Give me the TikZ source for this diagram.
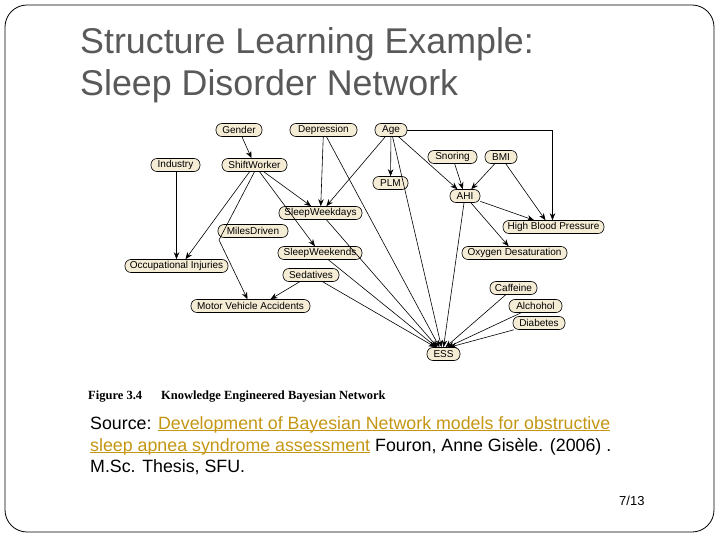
\documentclass[tikz,border=0pt]{standalone}
\usepackage{fontspec}
\setmainfont{Liberation Sans}
\newfontfamily\capfont{Liberation Serif}
\usetikzlibrary{arrows.meta}
\definecolor{nodefill}{RGB}{245,236,214}
\definecolor{titlegray}{RGB}{89,89,89}
\definecolor{linkc}{RGB}{196,150,20}
\newcommand\myul[1]{\leavevmode\setbox0\hbox{#1}\rlap{\rule[-2.2pt]{\wd0}{0.9pt}}\box0}
\tikzset{
  bn/.style={draw=black, line width=0.6pt, rounded corners=6pt, fill=nodefill,
    minimum height=13pt, inner sep=0.5pt, font=\fontsize{10}{11}\selectfont},
  arr/.style={-{Stealth[length=7pt,width=5.5pt]}, line width=0.6pt}
}
\begin{document}
\begin{tikzpicture}[x=1pt,y=-1pt]
\useasboundingbox (0,0) rectangle (720,540);
% slide frame
\draw[line width=0.8pt, rounded corners=22pt] (5,5) rectangle (714,532);
% title
\node[anchor=base west, text=titlegray, font=\fontsize{35.8}{42}\selectfont, inner sep=0pt] (t1) at (80,54) {Structure Learning Example:};
\node[anchor=base west, text=titlegray, font=\fontsize{35.8}{42}\selectfont, inner sep=0pt] (t2) at (80,96) {Sleep Disorder Network};

% nodes
\node[bn, minimum width=46pt] (Gender) at (239,130) {Gender};
\node[bn, minimum width=67pt] (Dep) at (323.5,130) {Depression};
\node[bn, minimum width=32pt] (Age) at (391,130) {Age};
\node[bn, minimum width=49pt] (Ind) at (175.5,165) {Industry};
\node[bn, minimum width=65pt] (SW) at (254.5,165) {ShiftWorker};
\node[bn, minimum width=49pt] (Snor) at (452.5,157) {Snoring};
\node[bn, minimum width=32pt] (BMI) at (501,157) {BMI};
\node[bn, minimum width=35pt] (PLM) at (390.5,183) {PLM};
\node[bn, minimum width=30pt] (AHI) at (465,196) {AHI};
\node[bn, minimum width=83pt] (SWD) at (320.5,213) {SleepWeekdays};
\node[bn, minimum width=70pt] (MD) at (253,231) {MilesDriven};
\node[bn, minimum width=101pt] (HBP) at (553.5,227) {High Blood Pressure};
\node[bn, minimum width=84pt] (SWE) at (320,253) {SleepWeekends};
\node[bn, minimum width=105pt] (OD) at (514.5,253) {Oxygen Desaturation};
\node[bn, minimum width=103pt] (OI) at (176.5,266) {Occupational Injuries};
\node[bn, minimum width=56pt] (Sed) at (311,275) {Sedatives};
\node[bn, minimum width=47pt] (Caf) at (513.5,288) {Caffeine};
\node[bn, minimum width=119pt] (MVA) at (250.5,306) {Motor Vehicle Accidents};
\node[bn, minimum width=53pt] (Alc) at (535.5,306) {Alchohol};
\node[bn, minimum width=52pt] (Dia) at (539,323) {Diabetes};
\node[bn, minimum width=33pt] (ESS) at (443.5,354) {ESS};

% edges
\draw[arr] (Gender) -- (SW);
\draw[arr] (Dep) -- (SWD);
\draw[arr] (Age) -- (SWD);
\draw[arr] (SW) -- (SWD);
\draw[arr] (Age) -- (PLM);
\draw[arr] (Age) -- (AHI);
\draw[arr] (Snor) -- (AHI);
\draw[arr] (BMI) -- (AHI);
\draw[arr] (Age.east) -| ([xshift=-1pt]HBP.north);
\draw[arr] (BMI) -- ([xshift=-8pt]HBP.north);
\draw[arr] (AHI) -- (HBP);
\draw[arr] (AHI) -- (OD);
\draw[arr] (Ind.south -| OI.north) -- (OI.north);
\draw[arr] (SW) -- ([xshift=9pt]OI.north);
\coordinate (bend) at (219,240);
\draw[arr] (SW.south) -- (bend) -- ([xshift=-3pt]MVA.north);
\draw[arr] (SW) -- (SWE);
\draw[arr] (Sed) -- ([xshift=20pt]MVA.north);
% into ESS
\draw[arr] ([xshift=3pt]Dep.south) -- ([xshift=-4pt]ESS.north);
\draw[arr] (Age) -- ([xshift=-2pt]ESS.north);
\draw[arr] (AHI) -- ([xshift=0pt]ESS.north);
\draw[arr] (SWD) -- ([xshift=-6pt]ESS.north);
\draw[arr] (SWE) -- ([xshift=-7pt]ESS.north);
\draw[arr] (Sed) -- ([xshift=-8pt]ESS.north);
\draw[arr] (Caf) -- ([xshift=2pt]ESS.north);
\draw[arr] (Alc) -- ([xshift=4pt]ESS.north);
\draw[arr] (Dia) -- ([xshift=6pt]ESS.north);

% caption
\node[anchor=base west, inner sep=0pt, font=\capfont\bfseries\fontsize{12.5}{14}\selectfont] (cap1) at (88,399) {Figure 3.4};
\node[anchor=base west, inner sep=0pt, font=\capfont\bfseries\fontsize{12.5}{14}\selectfont] (cap2) at (161,399) {Knowledge Engineered Bayesian Network};

% source
\node[anchor=base west, inner sep=0pt, font=\fontsize{17.8}{20}\selectfont] (s1) at (90,429) {Source: {\color{linkc}\myul{Development of Bayesian Network models for obstructive}}};
\node[anchor=base west, inner sep=0pt, font=\fontsize{17.8}{20}\selectfont] (s2) at (90,451) {{\color{linkc}\myul{sleep apnea syndrome assessment}} Fouron, Anne Gisèle. (2006) .};
\node[anchor=base west, inner sep=0pt, font=\fontsize{17.8}{20}\selectfont] (s3) at (90,472) {M.Sc. Thesis, SFU.};

% page number
\node[anchor=base west, inner sep=0pt, font=\fontsize{13}{15}\selectfont] (pg) at (619,505) {7/13};
\end{tikzpicture}
\end{document}
